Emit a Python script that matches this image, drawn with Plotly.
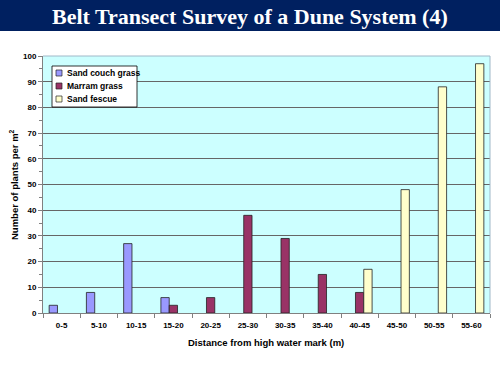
import plotly.graph_objects as go

categories = ["0-5", "5-10", "10-15", "15-20", "20-25", "25-30", "30-35",
              "35-40", "40-45", "45-50", "50-55", "55-60"]
sand_couch = [3, 8, 27, 6, None, None, None, None, None, None, None, None]
marram = [None, None, None, 3, 6, 38, 29, 15, 8, None, None, None]
sand_fescue = [None, None, None, None, None, None, None, None, 17, 48, 88, 97]
series_names = ["Sand couch grass", "Marram grass", "Sand fescue"]
series_colors = ["#9999FF", "#993366", "#FFFFCC"]
y_ticks = list(range(0, 101, 10))

W, H = 500, 375
ml, mr, mt, mb = 43, 10, 56, 62
pw, ph = W - ml - mr, H - mt - mb

def px(x):
    return (x - ml) / pw

def py(y):
    return 1 + (mt - y) / ph

fig = go.Figure()
line = dict(color="#222222", width=0.8)
for name, vals, col in zip(series_names, [sand_couch, marram, sand_fescue], series_colors):
    fig.add_trace(go.Bar(name=name, x=categories, y=vals,
                         marker=dict(color=col, line=line)))

tickfont = dict(size=8, family="Liberation Sans, Arial, sans-serif", color="black")

shapes = [
    dict(type="rect", xref="paper", yref="paper",
         x0=px(-5), x1=px(505), y0=py(31), y1=py(-5),
         fillcolor="#002060", line=dict(width=0), layer="above"),
    dict(type="line", xref="paper", yref="paper",
         x0=1, x1=1, y0=0, y1=1, line=dict(color="#A0B8C8", width=1)),
    dict(type="line", xref="paper", yref="paper",
         x0=0, x1=1, y0=1, y1=1, line=dict(color="#A0B8C8", width=1)),
    # legend box
    dict(type="rect", xref="paper", yref="paper",
         x0=px(52), x1=px(137), y0=py(107), y1=py(66),
         fillcolor="white", line=dict(color="black", width=0.8), layer="above"),
]
annotations = [
    dict(text="<b>Belt Transect Survey of a Dune System (4)</b>",
         xref="paper", yref="paper", x=px(250), y=py(16),
         xanchor="center", yanchor="middle", showarrow=False,
         font=dict(family="Liberation Serif, Times New Roman, serif",
                   size=22, color="white")),
    dict(text="<b>Distance from high water mark (m)</b>",
         xref="paper", yref="paper", x=px(266), y=py(342),
         xanchor="center", yanchor="middle", showarrow=False,
         font=dict(size=9.5, family="Liberation Sans, Arial, sans-serif", color="black")),
    dict(text="<b>Number of plants per m<sup>2</sup></b>",
         xref="paper", yref="paper", x=px(14), y=py(185), textangle=-90,
         xanchor="center", yanchor="middle", showarrow=False,
         font=dict(size=9.5, family="Liberation Sans, Arial, sans-serif", color="black")),
]
for i, (name, col) in enumerate(zip(series_names, series_colors)):
    yc = 73 + i * 13
    shapes.append(dict(type="rect", xref="paper", yref="paper",
                       x0=px(56), x1=px(62), y0=py(yc + 3), y1=py(yc - 3),
                       fillcolor=col, line=dict(color="#222222", width=0.7), layer="above"))
    annotations.append(dict(text="<b>" + name + "</b>", xref="paper", yref="paper",
                            x=px(65), y=py(yc), xanchor="left", yanchor="middle",
                            showarrow=False,
                            font=dict(size=8.5, family="Liberation Sans, Arial, sans-serif",
                                      color="black")))

fig.update_layout(
    width=W, height=H,
    margin=dict(l=ml, r=mr, t=mt, b=mb, autoexpand=False),
    paper_bgcolor="white",
    plot_bgcolor="#CCFFFF",
    barmode="group",
    bargap=0.33,
    bargroupgap=0,
    font=dict(family="Liberation Sans, Arial, sans-serif", size=8, color="black"),
    showlegend=False,
    xaxis=dict(
        type="category",
        automargin=False,
        showgrid=False,
        showline=True, linecolor="#808080", linewidth=1,
        ticks="outside", ticklen=4, tickcolor="#808080",
        tickson="boundaries",
        tickvals=categories,
        ticktext=["<b>" + c + "</b>" for c in categories],
        tickfont=tickfont,
        ticklabelstandoff=4,
        fixedrange=True,
    ),
    yaxis=dict(
        range=[0, 100],
        automargin=False,
        tickvals=y_ticks,
        ticktext=["<b>%d</b>" % v for v in y_ticks],
        showgrid=True, gridcolor="#666666", gridwidth=1,
        showline=True, linecolor="#808080", linewidth=1,
        ticks="outside", ticklen=4, tickcolor="#808080",
        minor=dict(dtick=5, ticks="outside", ticklen=3, tickcolor="#808080", showgrid=False),
        tickfont=tickfont,
        zeroline=False,
        fixedrange=True,
    ),
    shapes=shapes,
    annotations=annotations,
)

fig.write_html("out.html",
               config={"displayModeBar": False, "staticPlot": True},
               post_script="document.body.style.margin='0';document.body.style.padding='0';")
